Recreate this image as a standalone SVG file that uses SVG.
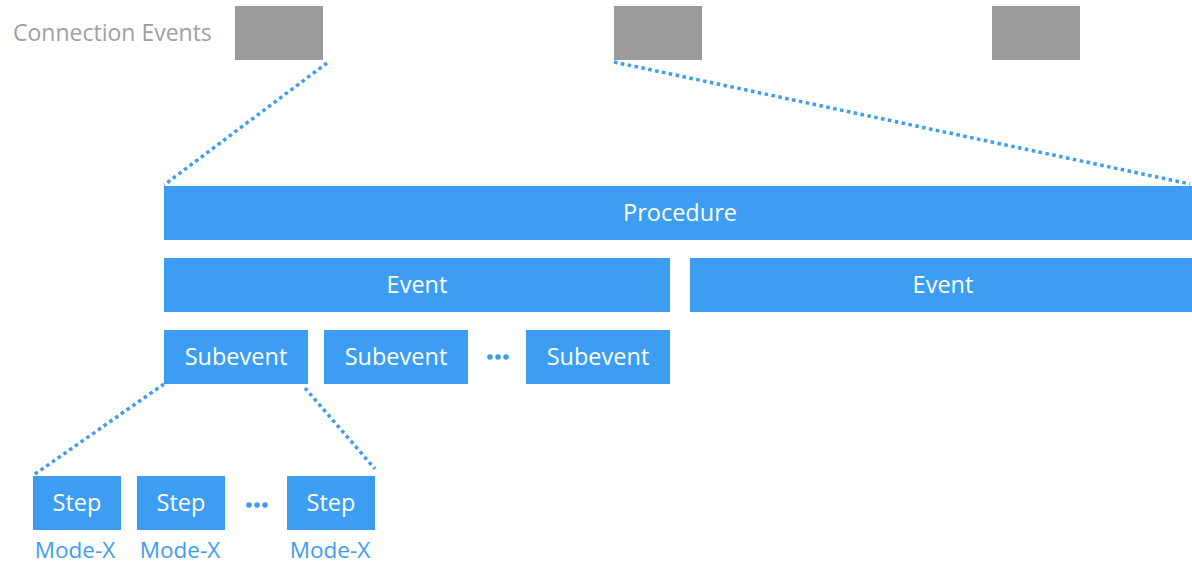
<svg xmlns="http://www.w3.org/2000/svg" width="1192" height="565" viewBox="0 0 1192 565">
<style>
.b{fill:#3d9df2}
.g{fill:#9b9b9b}
.t{font-family:"Open Sans","Noto Sans",sans-serif;font-size:23.5px;fill:#fff;text-anchor:middle}
.m{font-family:"Open Sans","Noto Sans",sans-serif;font-size:22.5px;fill:#3d9df2;text-anchor:middle}
.c{stroke:#3d9df2;stroke-width:3.5;stroke-dasharray:3.5 3.5;fill:none}
.d{fill:#3d9df2}
</style>
<rect width="1192" height="565" fill="#fff"/>
<text x="13" y="41" font-family="Open Sans, Noto Sans, sans-serif" font-size="23" fill="#a0a0a0">Connection Events</text>
<g id="ce1"><rect class="g" x="235" y="6" width="88" height="54"/></g>
<g id="ce2"><rect class="g" x="614" y="6" width="88" height="54"/></g>
<g id="ce3"><rect class="g" x="992" y="6" width="88" height="54"/></g>
<g id="connectors">
<line class="c" x1="327" y1="63" x2="164" y2="185"/>
<line class="c" x1="614" y1="62" x2="1190" y2="184"/>
<line class="c" x1="164" y1="384" x2="35" y2="474"/>
<line class="c" x1="305" y1="388" x2="375" y2="469"/>
</g>
<g id="procedure"><rect class="b" x="164" y="186" width="1028" height="54"/><text class="t" x="680" y="221">Procedure</text></g>
<g id="event1"><rect class="b" x="164" y="258" width="506" height="54"/><text class="t" x="417" y="293">Event</text></g>
<g id="event2"><rect class="b" x="690" y="258" width="502" height="54"/><text class="t" x="943" y="293">Event</text></g>
<g id="sub1"><rect class="b" x="164" y="330" width="144" height="54"/><text class="t" x="236" y="365">Subevent</text></g>
<g id="sub2"><rect class="b" x="324" y="330" width="144" height="54"/><text class="t" x="396" y="365">Subevent</text></g>
<g id="subdots"><circle class="d" cx="490" cy="357" r="2.8"/><circle class="d" cx="498" cy="357" r="2.8"/><circle class="d" cx="506" cy="357" r="2.8"/></g>
<g id="sub3"><rect class="b" x="526" y="330" width="144" height="54"/><text class="t" x="598" y="365">Subevent</text></g>
<g id="step1"><rect class="b" x="33" y="476" width="88" height="54"/><text class="t" x="77" y="511">Step</text><text class="m" x="75" y="558">Mode-X</text></g>
<g id="step2"><rect class="b" x="137" y="476" width="88" height="54"/><text class="t" x="181" y="511">Step</text><text class="m" x="180" y="558">Mode-X</text></g>
<g id="stepdots"><circle class="d" cx="249" cy="505" r="2.8"/><circle class="d" cx="257" cy="505" r="2.8"/><circle class="d" cx="265" cy="505" r="2.8"/></g>
<g id="step3"><rect class="b" x="287" y="476" width="88" height="54"/><text class="t" x="331" y="511">Step</text><text class="m" x="330" y="558">Mode-X</text></g>
</svg>
